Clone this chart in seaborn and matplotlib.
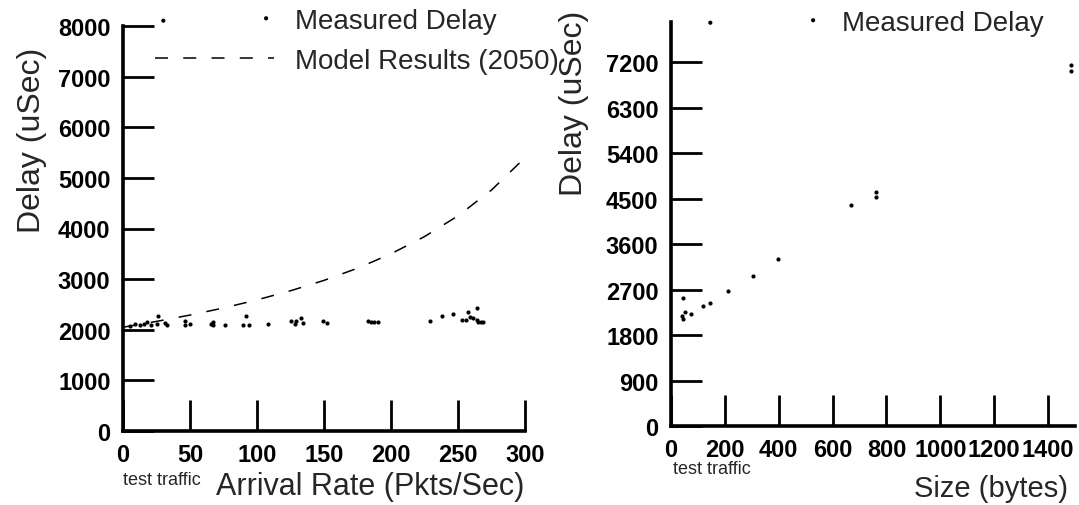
import numpy as np
import pandas as pd
import matplotlib
matplotlib.use('Agg')
import matplotlib.pyplot as plt
import seaborn as sns

sns.set_style('ticks')
plt.rcParams['font.family'] = ['Liberation Sans', 'DejaVu Sans']

# 左图：到达率 vs 时延
rate_pkts = [5, 8.7, 12.5, 16, 18, 21, 25, 26, 31, 33, 46, 46, 50, 66, 67, 67.5, 76,
             89.5, 92, 94, 108, 125.6, 128, 129, 133, 134, 149, 152, 183, 185, 187,
             190, 229, 238, 246, 253, 256, 257.5, 259, 261, 264, 264, 265, 267, 269]
rate_delay = [2081, 2115, 2095, 2115, 2160, 2095, 2115, 2280, 2134, 2095, 2180, 2095,
              2115, 2115, 2150, 2095, 2095, 2095, 2280, 2095, 2115, 2180, 2115, 2180,
              2233, 2128, 2168, 2128, 2168, 2148, 2148, 2148, 2168, 2266, 2306, 2193,
              2193, 2345, 2260, 2233, 2431, 2193, 2160, 2160, 2160]

model_rate = [0, 25, 50, 75, 100, 125, 150, 175, 200, 225, 250, 275, 300]
model_delay = [2050, 2165, 2290, 2430, 2590, 2770, 2975, 3215, 3500, 3840, 4250, 4760, 5400]

# 右图：包长 vs 时延
size_bytes = [43, 52, 43, 40, 73, 120, 145, 213, 306, 396, 668, 761, 761, 1487, 1487]
size_delay = [2526, 2249, 2117, 2170, 2215, 2380, 2433, 2676, 2973, 3303, 4371, 4634,
              4535, 7028, 7145]

left_xticks = [0, 50, 100, 150, 200, 250, 300]
left_yticks = [0, 1000, 2000, 3000, 4000, 5000, 6000, 7000, 8000]
right_xticks = [0, 200, 400, 600, 800, 1000, 1200, 1400]
right_yticks = [0, 900, 1800, 2700, 3600, 4500, 5400, 6300, 7200]

df_rate = pd.DataFrame({'rate': rate_pkts, 'delay': rate_delay})
df_model = pd.DataFrame({'rate': model_rate, 'delay': model_delay})
df_size = pd.DataFrame({'size': size_bytes, 'delay': size_delay})

W, H = 1079, 506
fig = plt.figure(figsize=(W / 100, H / 100), dpi=100)
ax1 = fig.add_axes([123 / W, 1 - 432 / H, 402 / W, 405 / H])
ax2 = fig.add_axes([671 / W, 1 - 427 / H, 404 / W, 404 / H])

sns.scatterplot(data=df_rate, x='rate', y='delay', ax=ax1, color='black', s=9,
                linewidth=0, label='Measured Delay', legend=False)
sns.lineplot(data=df_model, x='rate', y='delay', ax=ax1, color='black', lw=1.1,
             label='Model Results (2050)', legend=False)
ax1.lines[-1].set_dashes([8.5, 10])

sns.scatterplot(data=df_size, x='size', y='delay', ax=ax2, color='black', s=9,
                linewidth=0, label='Measured Delay', legend=False)

tick_font = {'family': 'Liberation Sans', 'weight': 'bold', 'size': 17}
for ax, xt, yt, xmax in [(ax1, left_xticks, left_yticks, 300),
                         (ax2, right_xticks, right_yticks, 1500)]:
    ax.set_xlim(0, xmax)
    ax.set_ylim(0, 8000)
    ax.set_xticks(xt)
    ax.set_yticks(yt)
    ax.set_xticklabels([str(v) for v in xt], fontdict=tick_font)
    ax.set_yticklabels([str(v) for v in yt], fontdict=tick_font)
    ax.tick_params(direction='in', length=22, width=2, pad=9, colors='black')
    for s in ['top', 'right']:
        ax.spines[s].set_visible(False)
    for s in ['left', 'bottom']:
        ax.spines[s].set_linewidth(2.6)
        ax.spines[s].set_color('black')
    ax.set_xlabel('')
    ax.set_ylabel('Delay (uSec)', fontsize=23)

ax1.yaxis.set_label_coords(-0.19, 0.72)
ax2.yaxis.set_label_coords(-0.203, 0.8)

# 坐标轴标题
fig.text(123 / W, 1 - 481 / H, 'test traffic', fontsize=13, ha='left', va='center')
fig.text(370 / W, 1 - 487 / H, 'Arrival Rate (Pkts/Sec)', fontsize=22, ha='center', va='center')
fig.text(673 / W, 1 - 470 / H, 'test traffic', fontsize=13, ha='left', va='center')
fig.text(1068 / W, 1 - 489 / H, 'Size (bytes)', fontsize=21, ha='right', va='center')

# 图例
h1, l1 = ax1.get_legend_handles_labels()
ax1.legend(h1, l1, loc='upper left', bbox_to_anchor=(155 / W, 1 - 9 / H),
           bbox_transform=fig.transFigure, frameon=False, fontsize=20,
           scatterpoints=2, handlelength=4.3, handletextpad=0.75,
           borderpad=0, borderaxespad=0, labelspacing=0.5)
h2, l2 = ax2.get_legend_handles_labels()
ax2.legend(h2, l2, loc='upper left', bbox_to_anchor=(702 / W, 1 - 11 / H),
           bbox_transform=fig.transFigure, frameon=False, fontsize=20,
           scatterpoints=2, handlelength=4.3, handletextpad=0.75,
           borderpad=0, borderaxespad=0)

fig.savefig('out.png', dpi=100)
